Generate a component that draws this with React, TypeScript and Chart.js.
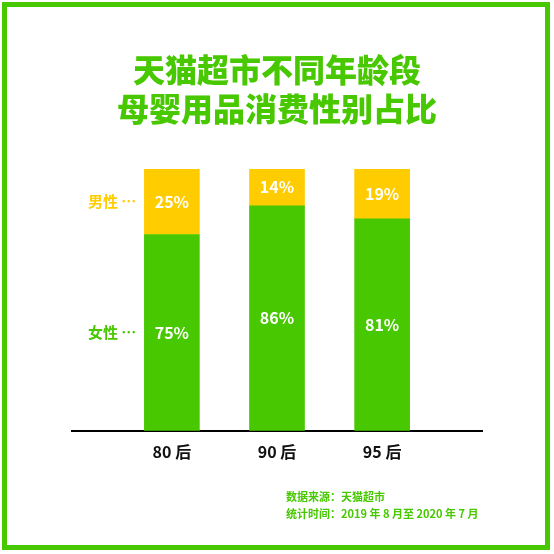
import React, { useEffect, useRef } from 'react';
import { Chart, registerables } from 'chart.js';

Chart.register(...registerables);

const categories = ['80 后', '90 后', '95 后'];
const femaleShare = [75, 86, 81];
const maleShare = [25, 14, 19];
const seriesNames = ['女性', '男性'];
const titleLines = ['天猫超市不同年龄段', '母婴用品消费性别占比'];
const footerLines = ['数据来源：天猫超市', '统计时间：2019 年 8 月至 2020 年 7 月'];

const GREEN = '#47c800';
const YELLOW = '#ffcc00';
const FONT = '"Noto Sans CJK SC", "Noto Sans", sans-serif';

// draws the % inside each segment and the series name left of the first bar
const segmentLabels = {
  id: 'segmentLabels',
  afterDatasetsDraw(chart: any) {
    const { ctx } = chart;
    ctx.save();
    ctx.textBaseline = 'middle';
    chart.data.datasets.forEach((ds: any, di: number) => {
      const meta = chart.getDatasetMeta(di);
      meta.data.forEach((bar: any, i: number) => {
        const { x, y, base, width } = bar.getProps(['x', 'y', 'base', 'width'], true);
        const cy = (y + base) / 2;
        ctx.fillStyle = '#ffffff';
        ctx.font = `600 16px ${FONT}`;
        ctx.textAlign = 'center';
        ctx.fillText(`${ds.data[i].y}%`, x, cy);
        if (i === 0) {
          ctx.fillStyle = ds.backgroundColor;
          ctx.font = `600 15px ${FONT}`;
          ctx.textAlign = 'right';
          ctx.fillText(`${ds.label} ⋯`, x - width / 2 - 8, cy);
        }
      });
    });
    ctx.restore();
  },
};

const App: React.FC = () => {
  const chartRef = useRef<HTMLCanvasElement>(null);
  const chartInstance = useRef<Chart | null>(null);

  useEffect(() => {
    if (!chartRef.current) return;
    const ctx = chartRef.current.getContext('2d');
    if (!ctx) return;

    if (chartInstance.current) {
      chartInstance.current.destroy();
    }

    chartInstance.current = new Chart(ctx, {
      type: 'bar',
      data: {
        datasets: [
          {
            label: seriesNames[0],
            data: femaleShare.map((v, i) => ({ x: i, y: v })),
            backgroundColor: GREEN,
            barThickness: 55,
          },
          {
            label: seriesNames[1],
            data: maleShare.map((v, i) => ({ x: i, y: v })),
            backgroundColor: YELLOW,
            barThickness: 55,
          },
        ],
      },
      options: {
        responsive: false,
        animation: false,
        layout: {
          padding: { top: 0, left: 72, right: 72, bottom: 80 },
        },
        scales: {
          x: {
            type: 'linear',
            stacked: true,
            offset: false,
            min: -0.95,
            max: 2.95,
            afterBuildTicks: (scale: any) => {
              scale.ticks = categories.map((_, i) => ({ value: i }));
            },
            grid: { display: false, drawTicks: false },
            border: { display: true, color: '#000000', width: 2 },
            ticks: {
              autoSkip: false,
              maxRotation: 0,
              padding: 12,
              color: '#111111',
              font: { family: FONT, size: 16, weight: 600 },
              callback: (value: any) => categories[value as number] ?? '',
            },
          },
          y: {
            stacked: true,
            min: 0,
            max: 100,
            display: false,
          },
        },
        plugins: {
          legend: { display: false },
          tooltip: { enabled: false },
          title: {
            display: true,
            text: titleLines,
            color: GREEN,
            font: { family: FONT, size: 32, weight: 900, lineHeight: 1.22 },
            padding: { top: 50, bottom: 41 },
          },
        },
      },
      plugins: [segmentLabels],
    });

    return () => {
      if (chartInstance.current) {
        chartInstance.current.destroy();
        chartInstance.current = null;
      }
    };
  }, []);

  return (
    <div
      style={{
        position: 'absolute',
        left: 0,
        top: 0,
        width: 554,
        height: 554,
        background: '#ffffff',
      }}
    >
      <canvas ref={chartRef} width={554} height={554} style={{ position: 'absolute', left: 0, top: 0 }} />
      <div
        style={{
          position: 'absolute',
          left: 2,
          top: 2,
          width: 548,
          height: 548,
          boxSizing: 'border-box',
          border: `5px solid ${GREEN}`,
          pointerEvents: 'none',
        }}
      />
      <div
        style={{
          position: 'absolute',
          left: 286,
          top: 488,
          fontFamily: FONT,
          fontSize: 11,
          fontWeight: 'bold',
          lineHeight: '17px',
          color: GREEN,
          whiteSpace: 'nowrap',
        }}
      >
        {footerLines.map((line) => (
          <div key={line}>{line}</div>
        ))}
      </div>
    </div>
  );
};

export default App;
